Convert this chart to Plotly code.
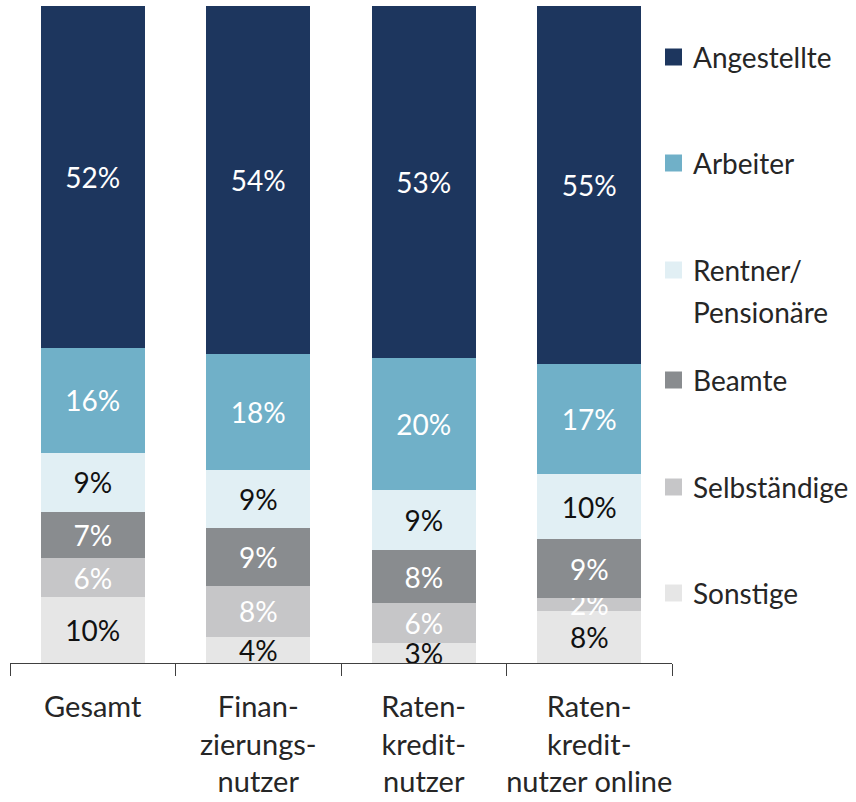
import plotly.graph_objects as go

# Categories (x axis) and series, listed bottom to top of each stack
categories = [
    "Gesamt",
    "Finan-<br>zierungs-<br>nutzer",
    "Raten-<br>kredit-<br>nutzer",
    "Raten-<br>kredit-<br>nutzer online",
]
series_names = ["Sonstige", "Selbständige", "Beamte", "Rentner/<br>Pensionäre", "Arbeiter", "Angestellte"]
sonstige = [10, 4, 3, 8]
selbstaendige = [6, 8, 6, 2]
beamte = [7, 9, 8, 9]
rentner = [9, 9, 9, 10]
arbeiter = [16, 18, 20, 17]
angestellte = [52, 54, 53, 55]
series_values = [sonstige, selbstaendige, beamte, rentner, arbeiter, angestellte]

colors = ["#e6e6e6", "#c6c6c8", "#898c8f", "#e1eff4", "#70b0c8", "#1d365e"]
label_colors = ["#111111", "#ffffff", "#ffffff", "#111111", "#ffffff", "#ffffff"]

FONT = "Lato"
W, H = 856, 802
ML, MR, MT, MB = 10, 184, 6, 139

fig = go.Figure()
for name, vals, col, lcol in zip(series_names, series_values, colors, label_colors):
    fig.add_trace(go.Bar(
        x=categories,
        y=vals,
        name=name,
        marker=dict(color=col, line=dict(width=0)),
        width=0.63,
        text=[f"{v}%" for v in vals],
        textposition="inside",
        insidetextanchor="middle",
        textangle=0,
        textfont=dict(family=FONT, size=28, color=lcol),
        showlegend=False,
    ))

fig.update_layout(
    width=W, height=H,
    margin=dict(l=ML, r=MR, t=MT, b=MB, autoexpand=False),
    barmode="stack",
    barnorm="percent",
    plot_bgcolor="white",
    paper_bgcolor="white",
    uniformtext=dict(minsize=28, mode="show"),
    font=dict(family=FONT, size=28, color="#262626"),
)
fig.update_xaxes(
    showline=True, linecolor="#404040", linewidth=1,
    ticks="outside", tickson="boundaries", ticklen=12, tickcolor="#404040",
    tickangle=0, automargin=False, ticklabelstandoff=18,
    tickfont=dict(family=FONT, size=29, color="#262626"),
    showgrid=False, zeroline=False, range=[-0.5, 3.5],
)
fig.update_yaxes(visible=False, range=[0, 100])

# Legend drawn as swatches and labels to the right of the bars
plot_w = W - ML - MR
plot_h = H - MT - MB


def px_to_paper(xp, yp):
    return (xp - ML) / plot_w, (H - MB - yp) / plot_h


# (text lines, swatch colour, vertical centre of the first line in px)
legend_rows = [
    (["Angestellte"], colors[5], 57),
    (["Arbeiter"], colors[4], 163),
    (["Rentner/", "Pensionäre"], colors[3], 270),
    (["Beamte"], colors[2], 380),
    (["Selbständige"], colors[1], 487),
    (["Sonstige"], colors[0], 593),
]
LINE_GAP = 42
for lines, col, yc in legend_rows:
    x0, y0 = px_to_paper(665, yc + 8.5)
    x1, y1 = px_to_paper(682, yc - 8.5)
    fig.add_shape(type="rect", xref="paper", yref="paper",
                  x0=x0, x1=x1, y0=y0, y1=y1,
                  fillcolor=col, line=dict(width=0))
    for i, line in enumerate(lines):
        tx, ty = px_to_paper(691, yc + i * LINE_GAP)
        fig.add_annotation(
            xref="paper", yref="paper", x=tx, y=ty,
            xanchor="left", yanchor="middle",
            text=line, showarrow=False, align="left",
            font=dict(family=FONT, size=28, color="#262626"),
        )

fig.write_html("out.html")
